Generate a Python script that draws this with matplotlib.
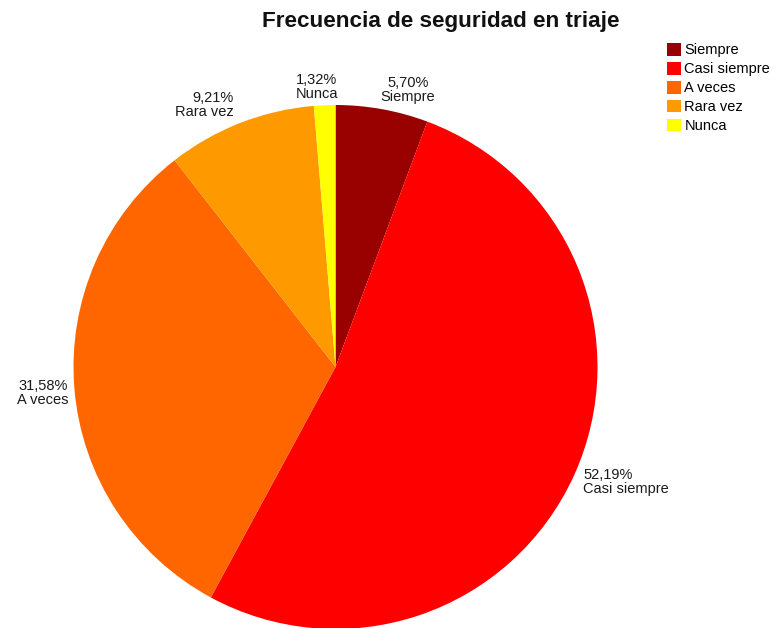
import matplotlib
matplotlib.use("Agg")
import matplotlib.pyplot as plt

plt.rcParams["font.family"] = ["Liberation Sans", "DejaVu Sans"]

categories = ["Siempre", "Casi siempre", "A veces", "Rara vez", "Nunca"]
percentages = [5.70, 52.19, 31.58, 9.21, 1.32]
colors = ["#990000", "#FF0000", "#FF6600", "#FF9900", "#FFFF00"]

# label anchor points (pie radius = 1) and horizontal alignment
label_pos = [(0.277, 1.057), (0.945, -0.439), (-1.021, -0.099),
             (-0.387, 1.000), (-0.071, 1.069)]
label_ha = ["center", "left", "right", "right", "center"]

fig = plt.figure(figsize=(7.77, 6.28), dpi=100)
ax = fig.add_axes([0.0946, -0.0016, 0.6744, 0.8344])

wedges, _ = ax.pie(percentages, colors=colors, startangle=90,
                   counterclock=False, radius=1.0,
                   wedgeprops=dict(linewidth=0))
ax.set_xlim(-1, 1)
ax.set_ylim(-1, 1)
ax.set_aspect("equal")
ax.axis("off")

for cat, pct, (x, y), ha in zip(categories, percentages, label_pos, label_ha):
    txt = "{:.2f}%".format(pct).replace(".", ",") + "\n" + cat
    ax.text(x, y, txt, ha=ha, va="center", multialignment=ha,
            fontsize=10.5, color="#1a1a1a", linespacing=1.0, clip_on=False)

fig.text(0.5675, 1 - 21 / 628, "Frecuencia de seguridad en triaje",
         ha="center", va="center", fontsize=16.2, fontweight="bold",
         color="#111111")

fig.legend(wedges, categories, loc="upper left",
           bbox_to_anchor=(667 / 777, 1 - 43 / 628), frameon=False,
           fontsize=10.5, handlelength=0.95, handleheight=0.95,
           handletextpad=0.25, labelspacing=0.32, borderpad=0,
           borderaxespad=0)

fig.savefig("out.png", dpi=100)
